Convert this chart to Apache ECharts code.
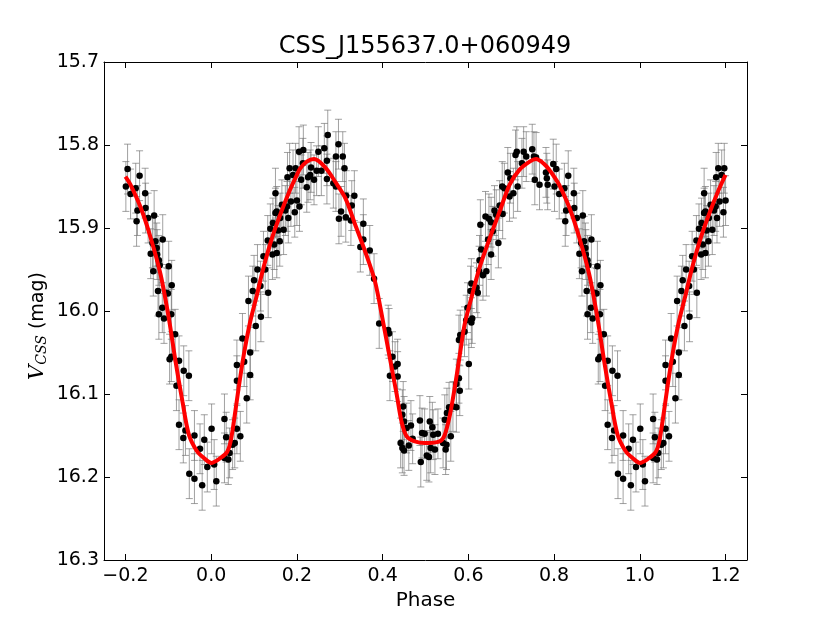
<!DOCTYPE html>
<html>
<head>
<meta charset="utf-8">
<script src="https://cdn.jsdelivr.net/npm/echarts@6/dist/echarts.min.js"></script>
<style>
  html, body { margin: 0; padding: 0; background: #fff; }
  #chart { width: 830px; height: 623px; }
</style>
</head>
<body>
<div id="chart"></div>
<script>
var titleText = 'CSS_J155637.0+060949';
var xName = 'Phase';
var magErr = 0.03; // typical half-length of the grey error bars

var obsPoints = [
  [0.001,16.142],[0.007,16.185],[0.012,16.205],[0.031,16.130],[0.035,16.152],[0.031,16.177],[0.040,16.179],
  [0.043,16.171],[0.050,16.161],[0.055,16.159],[0.060,16.142],[0.068,16.151],[0.060,16.084],[0.060,16.065],
  [0.073,16.033],[0.077,16.061],[0.083,16.105],[0.091,16.050],[0.091,16.077],[0.087,15.988],[0.097,15.976],
  [0.100,15.963],[0.104,16.018],[0.108,15.950],[0.115,15.970],[0.116,16.007],[0.122,15.934],[0.126,15.950],
  [0.133,15.978],[0.132,15.915],[0.138,15.901],[0.143,15.932],[0.144,15.894],[0.147,15.920],[0.153,15.930],
  [0.150,15.882],[0.156,15.903],[0.160,15.916],[0.150,15.858],[0.153,15.880],[0.161,15.888],[0.169,15.902],
  [0.165,15.872],[0.173,15.879],[0.177,15.874],[0.180,15.888],[0.178,15.839],[0.183,15.828],[0.186,15.868],
  [0.191,15.836],[0.195,15.881],[0.200,15.867],[0.197,15.828],[0.205,15.808],[0.206,15.874],[0.210,15.842],
  [0.214,15.822],[0.215,15.806],[0.223,15.851],[0.226,15.839],[0.231,15.836],[0.233,15.827],[0.240,15.842],
  [0.246,15.831],[0.250,15.808],
  [0.257,15.831],[0.264,15.804],[0.270,15.819],[0.272,15.788],[0.270,15.841],[0.285,15.846],[0.291,15.814],
  [0.297,15.799],[0.291,15.850],[0.307,15.814],[0.311,15.828],[0.303,15.880],[0.298,15.889],[0.315,15.861],
  [0.314,15.887],[0.328,15.873],[0.334,15.861],[0.326,15.891],[0.355,15.895],[0.355,15.914],[0.348,15.923],
  [0.370,15.927],[0.380,15.961],[0.392,16.015],[0.413,16.023],[0.415,16.027],[0.423,16.055],[0.435,16.064],
  [0.429,16.067],[0.417,16.078],[0.435,16.079],[0.448,16.115],[0.446,16.125],[0.450,16.133],[0.456,16.141],
  [0.466,16.138],[0.442,16.159],[0.446,16.165],[0.450,16.168],[0.461,16.162],[0.470,16.154],[0.487,16.132],
  [0.492,16.147],[0.498,16.148],[0.489,16.182],[0.503,16.174],[0.508,16.176],
  [0.510,16.133],[0.516,16.140],[0.518,16.149],[0.512,16.165],[0.522,16.167],[0.529,16.148],[0.541,16.159],
  [0.547,16.167],[0.549,16.161],[0.559,16.151],[0.545,16.131],[0.550,16.123],[0.555,16.116],[0.564,16.115],
  [0.572,16.116],[0.580,16.096],[0.572,16.088],[0.578,16.081],[0.601,16.064],[0.578,16.035],[0.581,16.029],
  [0.591,16.025],[0.595,16.011],[0.598,15.996],[0.607,16.014],[0.609,16.009],[0.605,15.976],[0.607,15.967],
  [0.619,15.972],[0.622,15.978],[0.625,15.952],[0.626,15.939],[0.630,15.926],[0.634,15.957],[0.642,15.952],
  [0.628,15.896],[0.640,15.886],[0.648,15.889],[0.653,15.893],[0.646,15.914],[0.653,15.932],[0.657,15.904],
  [0.661,15.879],[0.665,15.884],[0.670,15.918],[0.673,15.873],[0.680,15.883],[0.679,15.850],[0.684,15.852],
  [0.692,15.833],[0.698,15.840],[0.696,15.862],[0.705,15.858],[0.715,15.850],[0.710,15.812],[0.713,15.808],
  [0.725,15.822],[0.729,15.808],[0.735,15.814],[0.749,15.805],[0.753,15.814],[0.758,15.815],[0.755,15.842],
  [0.766,15.848],
  [0.781,15.833],[0.783,15.840],[0.785,15.848],[0.798,15.823],[0.805,15.829],[0.801,15.850],[0.812,15.859],
  [0.824,15.852],[0.833,15.837],[0.828,15.879],[0.826,15.892],[0.846,15.858],[0.847,15.876],[0.853,15.888],
  [0.867,15.885],[0.870,15.916],[0.863,15.918],[0.873,15.924],[0.887,15.914],[0.859,15.931],[0.874,15.932],
  [0.878,15.939],[0.880,15.945],[0.865,15.952],[0.901,15.946],[0.908,15.969],[0.876,15.976],[0.895,15.978],
  [0.899,15.979],[0.886,15.996],[0.878,16.004],[0.890,16.009],[0.907,16.004],[0.916,16.028],[0.903,16.058],
  [0.907,16.055],[0.925,16.060],[0.936,16.072],[0.948,16.078],[0.919,16.090],[0.925,16.137],[0.935,16.153],
  [0.940,16.144],[0.961,16.150],[0.974,16.166],[0.984,16.155],[0.991,16.188],[0.949,16.196],[0.961,16.202],
  [0.979,16.210]
];

// fitted light curve, phase 0..1
var fitCurve = [
  [0.000,16.183],[0.022,16.177],[0.037,16.170],[0.045,16.158],[0.053,16.133],[0.064,16.093],[0.076,16.053],
  [0.091,16.013],[0.107,15.980],[0.122,15.948],[0.142,15.912],[0.161,15.884],[0.184,15.854],[0.200,15.836],
  [0.208,15.828],[0.223,15.820],[0.240,15.817],[0.266,15.827],[0.289,15.844],[0.313,15.864],[0.336,15.896],
  [0.359,15.928],[0.382,15.964],[0.401,16.013],[0.417,16.057],[0.433,16.101],[0.444,16.133],[0.456,16.151],
  [0.475,16.157],[0.498,16.159],[0.533,16.157],[0.545,16.149],[0.557,16.125],[0.568,16.093],[0.580,16.053],
  [0.591,16.017],[0.607,15.984],[0.626,15.948],[0.650,15.912],[0.673,15.880],[0.696,15.848],[0.719,15.830],
  [0.743,15.820],[0.758,15.817],[0.777,15.823],[0.789,15.830],[0.800,15.838],[0.812,15.848],[0.836,15.876],
  [0.859,15.912],[0.882,15.956],[0.901,16.008],[0.917,16.061],[0.933,16.109],[0.948,16.149],[0.967,16.169],
  [0.985,16.178]
];

// plot shows phase -0.2..1.2, so repeat the edges of the cycle
function wrapPhase(list) {
  var out = [];
  list.forEach(function (p) { if (p[0] >= 0.8) out.push([p[0] - 1, p[1]]); });
  list.forEach(function (p) { out.push(p); });
  list.forEach(function (p) { if (p[0] <= 0.2) out.push([p[0] + 1, p[1]]); });
  return out;
}

var pointData = wrapPhase(obsPoints);
var curveData = wrapPhase(fitCurve);

var FONT = 'DejaVu Sans';
var tickLen = 6;

function fmtX(v) {
  if (Math.abs(v) < 1e-9) return '0.0';
  return v.toFixed(1).replace('-', '\u2212');
}

var chart = echarts.init(document.getElementById('chart'));

var option = {
  animation: false,
  backgroundColor: '#fff',
  grid: { left: 104, right: 83, top: 62, bottom: 63 },
  graphic: [
    {
      type: 'text', x: 425, y: 47,
      style: { text: titleText, fill: '#000', font: '24px ' + FONT, textAlign: 'center', textVerticalAlign: 'middle' }
    },
    {
      type: 'text', x: 38, y: 326, rotation: Math.PI / 2,
      style: {
        text: '{v|V}{s|CSS}{m| (mag)}',
        textAlign: 'center', textVerticalAlign: 'middle',
        rich: {
          v: { fontFamily: 'DejaVu Serif', fontStyle: 'italic', fontSize: 21, fill: '#000' },
          s: { fontFamily: 'DejaVu Serif', fontStyle: 'italic', fontSize: 14, fill: '#000', padding: [9, 0, 0, 0] },
          m: { fontFamily: FONT, fontSize: 19, fill: '#000' }
        }
      }
    }
  ],
  xAxis: [
    {
      type: 'value', min: -0.25, max: 1.25, splitNumber: 7,
      name: xName, nameLocation: 'middle', nameGap: 29,
      nameTextStyle: { fontFamily: FONT, fontSize: 20, color: '#000' },
      axisLine: { onZero: false, lineStyle: { color: '#000', width: 1 } },
      axisTick: { inside: true, length: tickLen, lineStyle: { color: '#000' } },
      axisLabel: { fontFamily: FONT, fontSize: 19, color: '#000', margin: 7, showMinLabel: false, showMaxLabel: false, formatter: fmtX },
      splitLine: { show: false }
    },
    {
      type: 'value', position: 'top', min: -0.25, max: 1.25, splitNumber: 7,
      axisLine: { onZero: false, lineStyle: { color: '#000', width: 1 } },
      axisTick: { inside: true, length: tickLen, lineStyle: { color: '#000' } },
      axisLabel: { show: false },
      splitLine: { show: false }
    }
  ],
  yAxis: [
    {
      type: 'value', inverse: true, min: 15.7, max: 16.3, interval: 0.1,
      axisLine: { show: true, onZero: false, lineStyle: { color: '#000', width: 1 } },
      axisTick: { show: true, inside: true, length: tickLen, lineStyle: { color: '#000' } },
      axisLabel: { fontFamily: FONT, fontSize: 19, color: '#000', margin: 5, formatter: function (v) { return v.toFixed(1); } },
      splitLine: { show: false }
    },
    {
      type: 'value', position: 'right', inverse: true, min: 15.7, max: 16.3, interval: 0.1,
      axisLine: { show: true, onZero: false, lineStyle: { color: '#000', width: 1 } },
      axisTick: { show: true, inside: true, length: tickLen, lineStyle: { color: '#000' } },
      axisLabel: { show: false },
      splitLine: { show: false }
    }
  ],
  series: [
    {
      type: 'custom',
      name: 'err',
      data: pointData,
      encode: { x: 0, y: 1 },
      z: 1,
      renderItem: function (params, api) {
        var x = api.value(0), y = api.value(1);
        var a = api.coord([x, y - magErr]);
        var b = api.coord([x, y + magErr]);
        var cap = 3.5;
        var st = { stroke: 'rgba(110,110,110,0.65)', lineWidth: 1 };
        return {
          type: 'group',
          children: [
            { type: 'line', shape: { x1: a[0], y1: a[1], x2: b[0], y2: b[1] }, style: st },
            { type: 'line', shape: { x1: a[0] - cap, y1: a[1], x2: a[0] + cap, y2: a[1] }, style: st },
            { type: 'line', shape: { x1: b[0] - cap, y1: b[1], x2: b[0] + cap, y2: b[1] }, style: st }
          ]
        };
      }
    },
    {
      type: 'scatter',
      name: 'obs',
      data: pointData,
      symbol: 'circle',
      symbolSize: 6.5,
      itemStyle: { color: '#000', opacity: 1 },
      z: 2
    },
    {
      type: 'line',
      name: 'fit',
      data: curveData,
      showSymbol: false,
      smooth: 0.3,
      lineStyle: { color: '#ff0000', width: 4 },
      z: 3
    }
  ]
};

chart.setOption(option);
</script>
</body>
</html>
